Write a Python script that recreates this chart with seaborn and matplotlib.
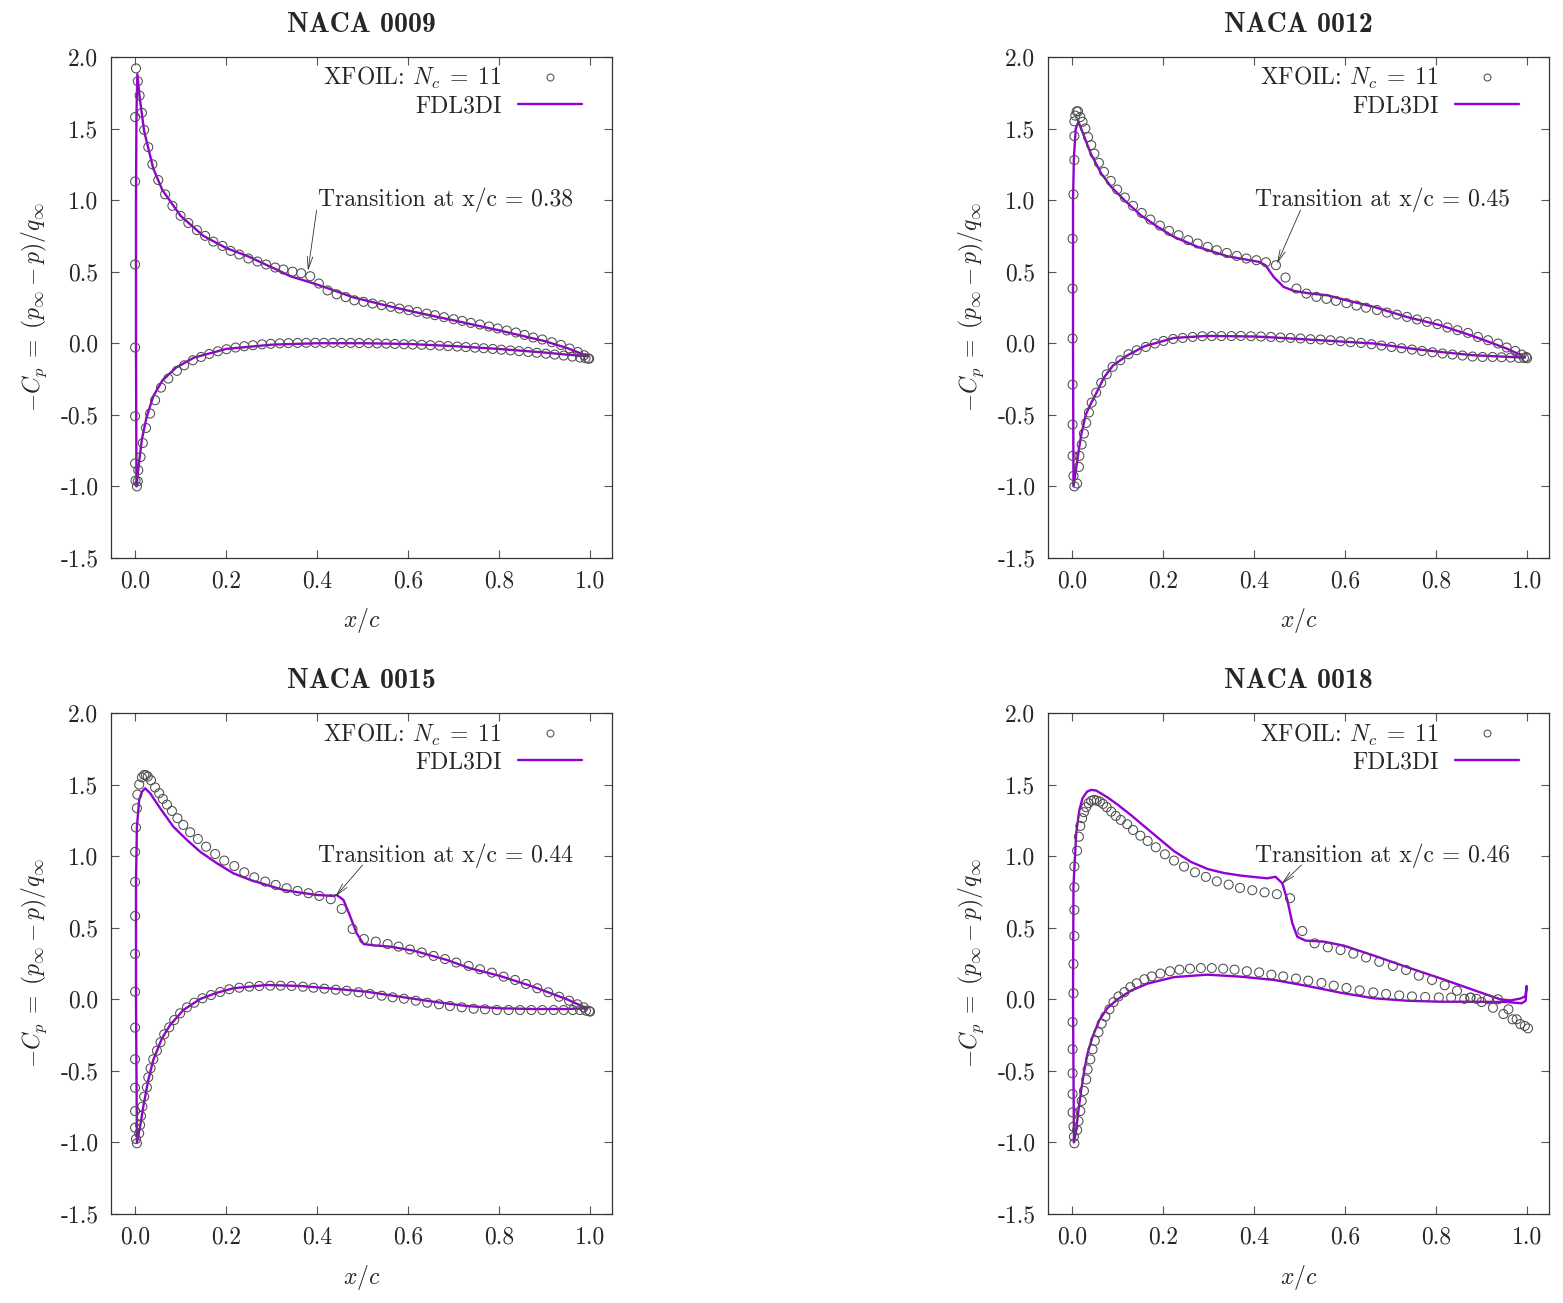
import seaborn as sns
import matplotlib.pyplot as plt
from matplotlib.lines import Line2D
from matplotlib.ticker import MultipleLocator, FormatStrFormatter

# ---------------- NACA 0009 ----------------
n09_xf_up_x = [0.001, 0.000, 0.000, 0.000, 0.000, 0.000, 0.000, 0.002, 0.006, 0.010, 0.015, 0.020, 0.029, 0.038,
               0.051, 0.066, 0.082, 0.100, 0.117, 0.136, 0.154, 0.172, 0.192, 0.210, 0.229, 0.249, 0.269, 0.288,
               0.308, 0.326, 0.346, 0.365, 0.385, 0.404, 0.423, 0.443, 0.463, 0.482, 0.502, 0.522, 0.542, 0.562,
               0.581, 0.601, 0.620, 0.641, 0.659, 0.679, 0.700, 0.719, 0.738, 0.758, 0.778, 0.797, 0.817, 0.837,
               0.856, 0.875, 0.895, 0.916, 0.936, 0.955, 0.973, 0.987, 0.996]
n09_xf_up_cp = [-0.96, -0.84, -0.51, -0.03, 0.55, 1.13, 1.58, 1.92, 1.83, 1.73, 1.61, 1.49, 1.37, 1.25,
                1.14, 1.04, 0.96, 0.89, 0.84, 0.79, 0.75, 0.71, 0.68, 0.645, 0.62, 0.592, 0.571, 0.55,
                0.529, 0.515, 0.50, 0.489, 0.468, 0.417, 0.369, 0.342, 0.322, 0.30, 0.289, 0.277, 0.266, 0.254,
                0.242, 0.231, 0.219, 0.207, 0.196, 0.182, 0.168, 0.156, 0.142, 0.131, 0.117, 0.103, 0.089, 0.075,
                0.058, 0.04, 0.026, 0.007, -0.012, -0.037, -0.061, -0.084, -0.107]
n09_xf_lo_x = [0.004, 0.006, 0.007, 0.012, 0.017, 0.024, 0.033, 0.044, 0.057, 0.073, 0.092, 0.108, 0.127, 0.145,
               0.163, 0.182, 0.201, 0.221, 0.240, 0.259, 0.279, 0.298, 0.318, 0.337, 0.357, 0.376, 0.396, 0.415,
               0.435, 0.454, 0.474, 0.493, 0.513, 0.532, 0.552, 0.571, 0.591, 0.610, 0.630, 0.649, 0.669, 0.688,
               0.708, 0.727, 0.747, 0.766, 0.786, 0.805, 0.825, 0.844, 0.864, 0.883, 0.903, 0.922, 0.942, 0.961,
               0.978, 0.990, 0.998]
n09_xf_lo_cp = [-1.0, -0.964, -0.887, -0.795, -0.697, -0.592, -0.491, -0.398, -0.31, -0.247, -0.193, -0.154, -0.119,
                -0.096, -0.075, -0.056, -0.042, -0.03, -0.021, -0.014, -0.008, -0.004, -0.001, 0.001, 0.002, 0.003,
                0.003, 0.003, 0.003, 0.002, 0.002, 0.001, 0.0, -0.001, -0.003, -0.005, -0.007, -0.009, -0.011,
                -0.014, -0.017, -0.02, -0.023, -0.027, -0.031, -0.035, -0.04, -0.045, -0.05, -0.055, -0.061,
                -0.067, -0.073, -0.079, -0.086, -0.093, -0.1, -0.105, -0.108]
n09_fd_up_x = [0.003, 0.002, 0.002, 0.003, 0.005, 0.010, 0.020, 0.040, 0.060, 0.100, 0.150, 0.200, 0.250, 0.290,
               0.311, 0.341, 0.377, 0.414, 0.436, 0.480, 0.550, 0.600, 0.700, 0.800, 0.900, 0.949, 0.995]
n09_fd_up_cp = [-1.0, 0.0, 1.0, 1.6, 1.88, 1.72, 1.48, 1.22, 1.07, 0.89, 0.75, 0.665, 0.605, 0.545,
                0.515, 0.468, 0.433, 0.395, 0.37, 0.32, 0.265, 0.228, 0.16, 0.09, 0.015, -0.033, -0.09]
n09_fd_lo_x = [0.003, 0.008, 0.015, 0.025, 0.040, 0.060, 0.090, 0.130, 0.200, 0.300, 0.400, 0.500, 0.600, 0.700,
               0.800, 0.900, 0.950, 0.995]
n09_fd_lo_cp = [-1.0, -0.85, -0.67, -0.52, -0.37, -0.26, -0.17, -0.10, -0.04, -0.01, 0.0, 0.0, -0.005, -0.02,
                -0.04, -0.065, -0.08, -0.09]

# ---------------- NACA 0012 ----------------
n12_xf_up_x = [0.003, 0.001, 0.001, 0.001, 0.001, 0.001, 0.001, 0.003, 0.005, 0.005, 0.005, 0.007, 0.010, 0.013,
               0.018, 0.023, 0.029, 0.035, 0.042, 0.049, 0.059, 0.070, 0.085, 0.099, 0.116, 0.134, 0.153, 0.172,
               0.193, 0.213, 0.234, 0.255, 0.276, 0.298, 0.318, 0.340, 0.362, 0.383, 0.405, 0.426, 0.448, 0.469,
               0.493, 0.515, 0.537, 0.559, 0.580, 0.603, 0.625, 0.646, 0.670, 0.692, 0.714, 0.736, 0.758, 0.780,
               0.803, 0.825, 0.847, 0.870, 0.892, 0.914, 0.936, 0.955, 0.974, 0.988, 0.998]
n12_xf_up_cp = [-0.927, -0.787, -0.568, -0.289, 0.033, 0.382, 0.73, 1.04, 1.28, 1.447, 1.55, 1.59, 1.62, 1.62,
                1.58, 1.547, 1.50, 1.44, 1.384, 1.325, 1.26, 1.197, 1.134, 1.074, 1.018, 0.96, 0.91, 0.864,
                0.822, 0.785, 0.755, 0.72, 0.697, 0.673, 0.65, 0.631, 0.61, 0.592, 0.58, 0.566, 0.545, 0.459,
                0.382, 0.347, 0.324, 0.31, 0.296, 0.28, 0.263, 0.248, 0.232, 0.214, 0.2, 0.184, 0.166, 0.149,
                0.133, 0.11, 0.091, 0.072, 0.044, 0.021, -0.002, -0.03, -0.054, -0.079, -0.096]
n12_xf_lo_x = [0.005, 0.011, 0.015, 0.016, 0.021, 0.026, 0.031, 0.037, 0.043, 0.053, 0.064, 0.076, 0.089, 0.106,
               0.124, 0.142, 0.162, 0.182, 0.201, 0.222, 0.243, 0.265, 0.286, 0.307, 0.328, 0.350, 0.371, 0.393,
               0.415, 0.437, 0.458, 0.480, 0.502, 0.524, 0.546, 0.568, 0.590, 0.612, 0.635, 0.658, 0.680, 0.702,
               0.724, 0.747, 0.769, 0.792, 0.814, 0.836, 0.858, 0.880, 0.902, 0.924, 0.944, 0.964, 0.982, 0.993,
               1.000]
n12_xf_lo_cp = [-1.0, -0.98, -0.864, -0.787, -0.708, -0.631, -0.557, -0.484, -0.415, -0.345, -0.277, -0.217,
                -0.165, -0.119, -0.077, -0.049, -0.026, -0.002, 0.016, 0.03, 0.037, 0.044, 0.049, 0.05, 0.05,
                0.05, 0.051, 0.049, 0.047, 0.044, 0.04, 0.037, 0.033, 0.028, 0.026, 0.021, 0.014, 0.007, 0.002,
                -0.007, -0.016, -0.026, -0.035, -0.044, -0.054, -0.063, -0.072, -0.079, -0.086, -0.093, -0.096,
                -0.096, -0.098, -0.1, -0.103, -0.103, -0.105]
n12_fd_up_x = [0.003, 0.002, 0.002, 0.004, 0.008, 0.014, 0.027, 0.041, 0.064, 0.086, 0.115, 0.151, 0.188, 0.224,
               0.276, 0.341, 0.411, 0.425, 0.443, 0.465, 0.488, 0.524, 0.561, 0.597, 0.663, 0.735, 0.809, 0.882,
               0.955, 0.995]
n12_fd_up_cp = [-1.0, 0.0, 1.0, 1.3, 1.5, 1.547, 1.44, 1.325, 1.186, 1.092, 0.999, 0.894, 0.813, 0.743,
                0.673, 0.608, 0.568, 0.545, 0.463, 0.393, 0.365, 0.347, 0.335, 0.305, 0.254, 0.184, 0.126, 0.049,
                -0.037, -0.096]
n12_fd_lo_x = [0.003, 0.010, 0.015, 0.020, 0.030, 0.040, 0.053, 0.070, 0.090, 0.122, 0.160, 0.224, 0.297, 0.400,
               0.444, 0.550, 0.663, 0.740, 0.809, 0.882, 0.950, 0.995]
n12_fd_lo_cp = [-1.0, -0.85, -0.74, -0.64, -0.5, -0.43, -0.35, -0.24, -0.155, -0.084, -0.02, 0.037, 0.051, 0.047,
                0.04, 0.02, -0.002, -0.035, -0.061, -0.084, -0.094, -0.1]

# ---------------- NACA 0015 ----------------
n15_xf_up_x = [0.002, 0.000, 0.000, 0.000, 0.000, 0.000, 0.000, 0.000, 0.000, 0.000, 0.000, 0.002, 0.004, 0.005,
               0.009, 0.015, 0.020, 0.024, 0.028, 0.035, 0.044, 0.053, 0.061, 0.070, 0.081, 0.093, 0.106, 0.121,
               0.138, 0.156, 0.176, 0.196, 0.218, 0.240, 0.262, 0.286, 0.309, 0.333, 0.357, 0.381, 0.405, 0.430,
               0.454, 0.478, 0.503, 0.529, 0.555, 0.579, 0.604, 0.630, 0.656, 0.681, 0.706, 0.733, 0.758, 0.784,
               0.810, 0.835, 0.859, 0.884, 0.908, 0.932, 0.954, 0.972, 0.986, 0.998]
n15_xf_up_cp = [-0.976, -0.897, -0.781, -0.618, -0.419, -0.198, 0.053, 0.317, 0.582, 0.82, 1.03, 1.20, 1.335, 1.43,
                1.50, 1.55, 1.567, 1.565, 1.556, 1.53, 1.48, 1.44, 1.40, 1.36, 1.316, 1.265, 1.218, 1.167,
                1.12, 1.066, 1.015, 0.969, 0.931, 0.887, 0.852, 0.822, 0.799, 0.776, 0.757, 0.741, 0.722, 0.699,
                0.631, 0.491, 0.421, 0.403, 0.386, 0.368, 0.348, 0.327, 0.303, 0.281, 0.257, 0.233, 0.21, 0.186,
                0.158, 0.135, 0.107, 0.077, 0.049, 0.018, -0.01, -0.035, -0.056, -0.082]
n15_xf_lo_x = [0.004, 0.009, 0.011, 0.013, 0.016, 0.020, 0.026, 0.029, 0.034, 0.040, 0.048, 0.056, 0.064, 0.075,
               0.086, 0.099, 0.114, 0.130, 0.148, 0.167, 0.187, 0.207, 0.229, 0.251, 0.273, 0.297, 0.320, 0.344,
               0.369, 0.392, 0.416, 0.441, 0.465, 0.491, 0.516, 0.542, 0.566, 0.591, 0.617, 0.642, 0.668, 0.692,
               0.718, 0.744, 0.769, 0.795, 0.821, 0.846, 0.871, 0.895, 0.920, 0.942, 0.962, 0.978, 0.991, 1.000]
n15_xf_lo_cp = [-1.006, -0.936, -0.878, -0.815, -0.75, -0.68, -0.615, -0.545, -0.482, -0.419, -0.359, -0.30, -0.245,
                -0.196, -0.145, -0.098, -0.056, -0.024, 0.007, 0.03, 0.051, 0.07, 0.081, 0.088, 0.093, 0.095,
                0.095, 0.093, 0.088, 0.081, 0.074, 0.067, 0.06, 0.049, 0.037, 0.025, 0.014, 0.004, -0.01, -0.024,
                -0.035, -0.047, -0.056, -0.066, -0.07, -0.075, -0.075, -0.075, -0.075, -0.075, -0.075, -0.075,
                -0.075, -0.075, -0.079, -0.086]
n15_fd_up_x = [0.004, 0.002, 0.002, 0.004, 0.009, 0.015, 0.022, 0.033, 0.055, 0.084, 0.114, 0.143, 0.180, 0.216,
               0.253, 0.289, 0.326, 0.363, 0.399, 0.436, 0.443, 0.458, 0.473, 0.487, 0.502, 0.524, 0.560, 0.612,
               0.685, 0.736, 0.802, 0.875, 0.949, 0.993]
n15_fd_up_cp = [-1.0, 0.0, 0.82, 1.206, 1.393, 1.45, 1.474, 1.44, 1.335, 1.206, 1.113, 1.031, 0.95, 0.88,
                0.834, 0.799, 0.764, 0.745, 0.729, 0.722, 0.729, 0.694, 0.577, 0.461, 0.386, 0.377, 0.368, 0.34,
                0.275, 0.217, 0.163, 0.088, 0.0, -0.063]
n15_fd_lo_x = [0.004, 0.011, 0.018, 0.029, 0.040, 0.059, 0.077, 0.106, 0.143, 0.180, 0.216, 0.289, 0.363, 0.436,
               0.509, 0.582, 0.656, 0.729, 0.802, 0.875, 0.949, 0.993]
n15_fd_lo_cp = [-1.0, -0.89, -0.75, -0.564, -0.424, -0.273, -0.18, -0.075, 0.002, 0.046, 0.077, 0.1, 0.093, 0.074,
                0.053, 0.018, -0.017, -0.047, -0.063, -0.068, -0.068, -0.063]

# ---------------- NACA 0018 ----------------
n18_xf_up_x = [0.004, 0.003, 0.001, 0.001, 0.001, 0.001, 0.001, 0.003, 0.003, 0.005, 0.005, 0.005, 0.005, 0.011,
               0.015, 0.018, 0.022, 0.026, 0.031, 0.036, 0.042, 0.048, 0.054, 0.061, 0.068, 0.076, 0.086, 0.096,
               0.107, 0.121, 0.134, 0.150, 0.166, 0.184, 0.204, 0.224, 0.246, 0.270, 0.294, 0.318, 0.344, 0.369,
               0.396, 0.423, 0.450, 0.479, 0.506, 0.533, 0.562, 0.590, 0.618, 0.646, 0.675, 0.705, 0.734, 0.762,
               0.791, 0.819, 0.846, 0.875, 0.900, 0.925, 0.948, 0.968, 0.985, 1.002]
n18_xf_up_cp = [-0.96, -0.89, -0.79, -0.662, -0.517, -0.349, -0.159, 0.042, 0.247, 0.442, 0.624, 0.783, 0.927, 1.038,
                1.136, 1.211, 1.265, 1.307, 1.342, 1.37, 1.386, 1.393, 1.388, 1.381, 1.365, 1.342, 1.311, 1.281,
                1.253, 1.223, 1.183, 1.143, 1.106, 1.062, 1.013, 0.969, 0.927, 0.887, 0.855, 0.824, 0.801, 0.778,
                0.762, 0.747, 0.734, 0.706, 0.477, 0.391, 0.363, 0.344, 0.319, 0.292, 0.262, 0.233, 0.205, 0.165,
                0.135, 0.098, 0.06, 0.011, -0.019, -0.059, -0.103, -0.14, -0.173, -0.203]
n18_xf_lo_x = [0.005, 0.011, 0.014, 0.018, 0.021, 0.026, 0.031, 0.034, 0.040, 0.045, 0.050, 0.058, 0.065, 0.073,
               0.082, 0.091, 0.102, 0.115, 0.128, 0.142, 0.159, 0.175, 0.194, 0.215, 0.236, 0.259, 0.283, 0.307,
               0.332, 0.357, 0.384, 0.411, 0.438, 0.464, 0.492, 0.519, 0.548, 0.575, 0.603, 0.632, 0.662, 0.690,
               0.719, 0.747, 0.776, 0.806, 0.833, 0.862, 0.876, 0.889, 0.914, 0.936, 0.959, 0.977, 0.995]
n18_xf_lo_cp = [-1.006, -0.913, -0.85, -0.78, -0.71, -0.64, -0.56, -0.49, -0.42, -0.35, -0.29, -0.23, -0.17, -0.12,
                -0.07, -0.02, 0.02, 0.05, 0.085, 0.112, 0.14, 0.16, 0.18, 0.196, 0.207, 0.214, 0.218, 0.218,
                0.214, 0.207, 0.196, 0.188, 0.172, 0.16, 0.145, 0.13, 0.114, 0.095, 0.079, 0.062, 0.048, 0.037,
                0.027, 0.02, 0.016, 0.013, 0.012, 0.003, 0.012, 0.003, 0.0, 0.0, -0.07, -0.14, -0.186]
n18_fd_up_x = [0.004, 0.002, 0.003, 0.009, 0.016, 0.023, 0.033, 0.042, 0.053, 0.078, 0.100, 0.130, 0.160, 0.190,
               0.224, 0.261, 0.298, 0.334, 0.371, 0.407, 0.429, 0.447, 0.462, 0.473, 0.484, 0.495, 0.513, 0.553,
               0.597, 0.670, 0.743, 0.809, 0.882, 0.941, 0.963, 0.985, 0.996, 0.999]
n18_fd_up_cp = [-1.0, 0.0, 0.79, 1.16, 1.323, 1.405, 1.451, 1.463, 1.458, 1.41, 1.36, 1.285, 1.205, 1.125,
                1.035, 0.96, 0.91, 0.882, 0.864, 0.852, 0.845, 0.856, 0.81, 0.694, 0.531, 0.437, 0.41, 0.403,
                0.375, 0.298, 0.217, 0.147, 0.065, 0.0, -0.008, 0.005, 0.02, 0.09]
n18_fd_lo_x = [0.004, 0.009, 0.014, 0.020, 0.027, 0.034, 0.045, 0.060, 0.078, 0.100, 0.129, 0.166, 0.224, 0.297,
               0.371, 0.444, 0.517, 0.590, 0.663, 0.736, 0.809, 0.882, 0.955, 0.988, 0.997, 0.999]
n18_fd_lo_cp = [-1.0, -0.913, -0.774, -0.634, -0.494, -0.377, -0.261, -0.145, -0.06, 0.0, 0.06, 0.11, 0.155, 0.172,
                0.158, 0.135, 0.093, 0.046, 0.007, -0.01, -0.017, -0.017, -0.019, -0.028, -0.01, 0.09]

titles = ["NACA 0009", "NACA 0012", "NACA 0015", "NACA 0018"]
transition = [0.38, 0.45, 0.44, 0.46]
arrow_tip_cp = [0.505, 0.554, 0.717, 0.804]
arrow_start = [(0.399, 0.93), (0.502, 0.93), (0.50, 0.938), (0.504, 0.938)]

panels = [
    (n09_xf_up_x, n09_xf_up_cp, n09_xf_lo_x, n09_xf_lo_cp, n09_fd_up_x, n09_fd_up_cp, n09_fd_lo_x, n09_fd_lo_cp),
    (n12_xf_up_x, n12_xf_up_cp, n12_xf_lo_x, n12_xf_lo_cp, n12_fd_up_x, n12_fd_up_cp, n12_fd_lo_x, n12_fd_lo_cp),
    (n15_xf_up_x, n15_xf_up_cp, n15_xf_lo_x, n15_xf_lo_cp, n15_fd_up_x, n15_fd_up_cp, n15_fd_lo_x, n15_fd_lo_cp),
    (n18_xf_up_x, n18_xf_up_cp, n18_xf_lo_x, n18_xf_lo_cp, n18_fd_up_x, n18_fd_up_cp, n18_fd_lo_x, n18_fd_lo_cp),
]

sns.set_style("ticks")
plt.rcParams['font.family'] = ['cmr10', 'DejaVu Serif']
plt.rcParams['mathtext.fontset'] = 'cm'
plt.rcParams['axes.unicode_minus'] = False
plt.rcParams['text.color'] = '#262626'
plt.rcParams['axes.labelcolor'] = '#262626'

PURPLE = '#9400d3'
GREY = '#4d4d4d'
FS = 17

fig = plt.figure(figsize=(15.63, 13.03), dpi=100)
positions = [(0.071, 0.5718), (0.6705, 0.5718), (0.071, 0.0683), (0.6705, 0.0683)]

for i, (pos, data) in enumerate(zip(positions, panels)):
    xu, cu, xl, cl, fxu, fcu, fxl, fcl = data
    ax = fig.add_axes([pos[0], pos[1], 0.3205, 0.3845])

    # FDL3DI as one closed curve: lower surface TE->LE, then upper LE->TE
    line_x = fxl[::-1] + fxu
    line_y = fcl[::-1] + fcu
    sns.lineplot(x=line_x, y=line_y, sort=False, estimator=None, color=PURPLE, lw=1.7, ax=ax)

    sns.scatterplot(x=xu + xl, y=cu + cl, marker='o', s=42, facecolors='none',
                    edgecolor=GREY, linewidth=0.75, ax=ax, zorder=3)

    ax.set_xlim(-0.053, 1.048)
    ax.set_ylim(-1.5, 2.0)
    ax.xaxis.set_major_locator(MultipleLocator(0.2))
    ax.yaxis.set_major_locator(MultipleLocator(0.5))
    ax.xaxis.set_major_formatter(FormatStrFormatter('%.1f'))
    ax.yaxis.set_major_formatter(FormatStrFormatter('%.1f'))
    ax.tick_params(direction='in', top=True, right=True, length=6, width=0.8,
                   color='#555555', labelsize=FS, labelcolor='#262626', pad=9)
    for sp in ax.spines.values():
        sp.set_linewidth(0.9)
        sp.set_color('#333333')

    ax.set_xlabel(r'$x/c$', fontsize=FS, labelpad=10)
    ax.set_ylabel(r'$-C_p\;=\;(p_\infty - p)/q_\infty$', fontsize=FS, labelpad=8)
    ax.set_title(titles[i], fontfamily='cmb10', fontsize=20, pad=18)

    ax.text(0.402, 1.005, f'Transition at x/c = {transition[i]:.2f}', fontsize=FS,
            ha='left', va='center')
    ax.annotate('', xy=(transition[i], arrow_tip_cp[i]), xytext=arrow_start[i],
                arrowprops=dict(arrowstyle='->,head_length=0.9,head_width=0.2',
                                color='#333333', lw=0.6, shrinkA=0, shrinkB=0))

    h_xf = Line2D([], [], ls='none', marker='o', mfc='none', mec=GREY, ms=5, mew=0.75)
    h_fd = Line2D([], [], color=PURPLE, lw=1.7)
    ax.legend([h_xf, h_fd], [r'XFOIL: $N_c\;=\;11$', 'FDL3DI'], loc='upper right',
              bbox_to_anchor=(0.94, 0.983), frameon=False, markerfirst=False,
              handlelength=2.7, handletextpad=0.7, borderpad=0, borderaxespad=0,
              labelspacing=0.15, fontsize=FS)

fig.savefig('out.png', dpi=100)
